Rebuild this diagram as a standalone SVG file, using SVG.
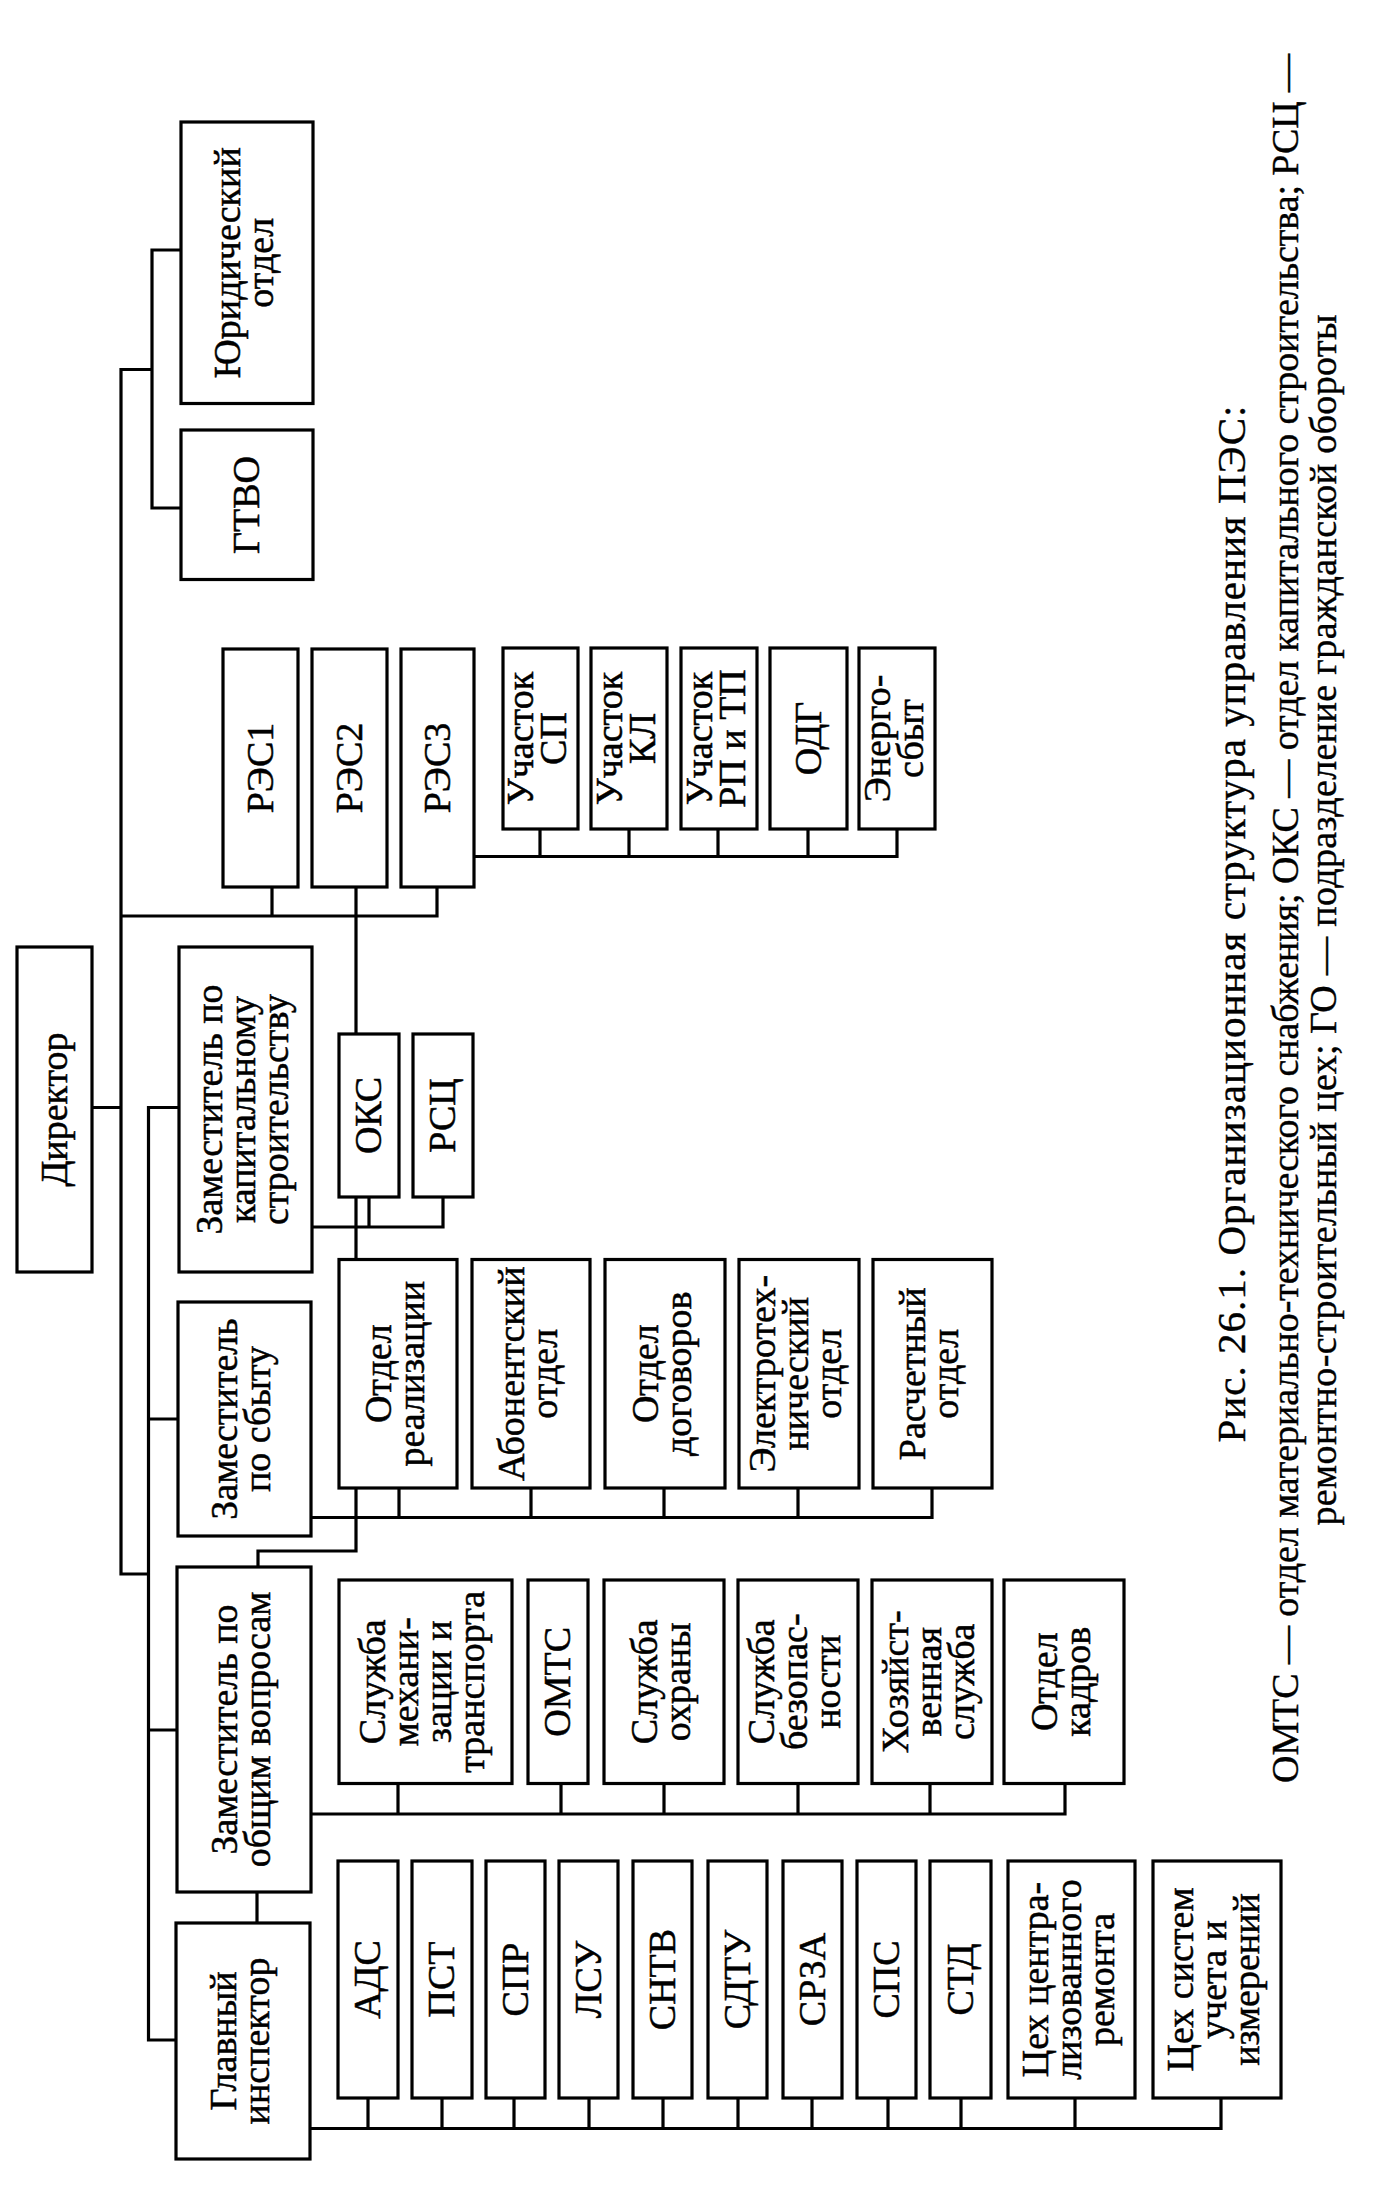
<svg xmlns="http://www.w3.org/2000/svg" width="1393" height="2193" viewBox="0 0 1393 2193">
<style>
.b{fill:#fff;stroke:#000;stroke-width:3.2}
.c{fill:none;stroke:#000;stroke-width:3.2;stroke-linecap:square}
.t{font-family:"Liberation Serif","Times New Roman",serif;font-size:38px;text-anchor:middle;fill:#000;stroke:#000;stroke-width:0.5}
.cap{font-family:"Liberation Serif","Times New Roman",serif;text-anchor:middle;fill:#000;stroke:#000;stroke-width:0.4}
</style>
<rect width="1393" height="2193" fill="#fff"/>
<g id="connectors">
<path class="c" d="M121 369.5 V1574 H148.5 M121 369.5 H152 M152 250 V508 M152 250 H181 M152 508 H181 M92 1107.5 H121 M121 916 H437 M272 887 V916 M437 887 V916 M356 887 V1034 M474 856.5 H897 M540 829 V856.5 M629 829 V856.5 M718 829 V856.5 M808 829 V856.5 M897 829 V856.5 M148.5 1107.5 H179 M148.5 1107.5 V2040 M148.5 1419 H178 M148.5 1730 H177 M148.5 2040 H176 M312 1227 H443 M369 1197 V1227 M443 1197 V1227 M356 1197 V1259.5 M356 1488 V1551 H258 V1567 M311 1517.5 H932 M399 1488 V1517.5 M531 1488 V1517.5 M664 1488 V1517.5 M798 1488 V1517.5 M932 1488 V1517.5 M257 1892 V1923 M311 1814 H1065 M398 1783.5 V1814 M561 1783.5 V1814 M664 1783.5 V1814 M798 1783.5 V1814 M930 1783.5 V1814 M1065 1783.5 V1814 M310 2128.5 H1221 M368 2098 V2128.5 M442 2098 V2128.5 M514 2098 V2128.5 M589 2098 V2128.5 M663 2098 V2128.5 M738 2098 V2128.5 M812 2098 V2128.5 M888 2098 V2128.5 M961 2098 V2128.5 M1075 2098 V2128.5 M1221 2098 V2128.5"/>
</g>
<g id="dir"><rect class="b" x="17" y="947" width="75" height="325"/><text class="t" transform="translate(54.5,1109.5) rotate(-90)"><tspan x="0" y="12">Директор</tspan></text></g>
<g id="yur"><rect class="b" x="181" y="122" width="132" height="281.5"/><text class="t" transform="translate(247,262.75) rotate(-90)"><tspan x="0" y="-7.5">Юридический</tspan><tspan x="0" y="25.5">отдел</tspan></text></g>
<g id="gtvo"><rect class="b" x="181" y="430" width="132" height="149.5"/><text class="t" transform="translate(247,505) rotate(-90)"><tspan x="0" y="12">ГТВО</tspan></text></g>
<g id="res1"><rect class="b" x="223" y="649" width="75" height="238"/><text class="t" transform="translate(260.5,768) rotate(-90)"><tspan x="0" y="12">РЭС1</tspan></text></g>
<g id="res2"><rect class="b" x="312" y="649" width="75" height="238"/><text class="t" transform="translate(349.5,768) rotate(-90)"><tspan x="0" y="12">РЭС2</tspan></text></g>
<g id="res3"><rect class="b" x="401" y="649" width="73" height="238"/><text class="t" transform="translate(437.5,768) rotate(-90)"><tspan x="0" y="12">РЭС3</tspan></text></g>
<g id="u_sp"><rect class="b" x="503" y="648" width="75" height="181"/><text class="t" transform="translate(540.5,738.5) rotate(-90)"><tspan x="0" y="-7.5">Участок</tspan><tspan x="0" y="25.5">СП</tspan></text></g>
<g id="u_kl"><rect class="b" x="591" y="648" width="76" height="181"/><text class="t" transform="translate(629,738.5) rotate(-90)"><tspan x="0" y="-7.5">Участок</tspan><tspan x="0" y="25.5">КЛ</tspan></text></g>
<g id="u_rp"><rect class="b" x="681" y="648" width="76" height="181"/><text class="t" transform="translate(719,738.5) rotate(-90)"><tspan x="0" y="-7.5">Участок</tspan><tspan x="0" y="25.5">РП и ТП</tspan></text></g>
<g id="odg"><rect class="b" x="770" y="648" width="77" height="181"/><text class="t" transform="translate(808.5,738.5) rotate(-90)"><tspan x="0" y="12">ОДГ</tspan></text></g>
<g id="energo"><rect class="b" x="859" y="648" width="76" height="181"/><text class="t" transform="translate(897,738.5) rotate(-90)"><tspan x="0" y="-7.5">Энерго-</tspan><tspan x="0" y="25.5">сбыт</tspan></text></g>
<g id="zam_kap"><rect class="b" x="179" y="947" width="133" height="325"/><text class="t" transform="translate(245.5,1109.5) rotate(-90)"><tspan x="0" y="-24">Заместитель по</tspan><tspan x="0" y="9">капитальному</tspan><tspan x="0" y="42">строительству</tspan></text></g>
<g id="oks"><rect class="b" x="339" y="1034" width="60" height="163"/><text class="t" transform="translate(369,1115.5) rotate(-90)"><tspan x="0" y="12">ОКС</tspan></text></g>
<g id="rsc"><rect class="b" x="413" y="1034" width="60" height="163"/><text class="t" transform="translate(443,1115.5) rotate(-90)"><tspan x="0" y="12">РСЦ</tspan></text></g>
<g id="zam_sbyt"><rect class="b" x="178" y="1302" width="133" height="234"/><text class="t" transform="translate(244.5,1419) rotate(-90)"><tspan x="0" y="-7.5">Заместитель</tspan><tspan x="0" y="25.5">по сбыту</tspan></text></g>
<g id="otd_real"><rect class="b" x="339" y="1259.5" width="118" height="228.5"/><text class="t" transform="translate(398,1373.75) rotate(-90)"><tspan x="0" y="-7.5">Отдел</tspan><tspan x="0" y="25.5">реализации</tspan></text></g>
<g id="abon"><rect class="b" x="472" y="1259.5" width="118" height="228.5"/><text class="t" transform="translate(531,1373.75) rotate(-90)"><tspan x="0" y="-7.5">Абонентский</tspan><tspan x="0" y="25.5">отдел</tspan></text></g>
<g id="dog"><rect class="b" x="605" y="1259.5" width="120" height="228.5"/><text class="t" transform="translate(665,1373.75) rotate(-90)"><tspan x="0" y="-7.5">Отдел</tspan><tspan x="0" y="25.5">договоров</tspan></text></g>
<g id="elt"><rect class="b" x="739" y="1259.5" width="120" height="228.5"/><text class="t" transform="translate(799,1373.75) rotate(-90)"><tspan x="0" y="-24">Электротех-</tspan><tspan x="0" y="9">нический</tspan><tspan x="0" y="42">отдел</tspan></text></g>
<g id="rasch"><rect class="b" x="873" y="1259.5" width="119" height="228.5"/><text class="t" transform="translate(932.5,1373.75) rotate(-90)"><tspan x="0" y="-7.5">Расчетный</tspan><tspan x="0" y="25.5">отдел</tspan></text></g>
<g id="zam_obsh"><rect class="b" x="177" y="1567" width="134" height="325"/><text class="t" transform="translate(244,1729.5) rotate(-90)"><tspan x="0" y="-7.5">Заместитель по</tspan><tspan x="0" y="25.5">общим вопросам</tspan></text></g>
<g id="gi"><rect class="b" x="176" y="1923" width="134" height="236"/><text class="t" transform="translate(243,2041) rotate(-90)"><tspan x="0" y="-7.5">Главный</tspan><tspan x="0" y="25.5">инспектор</tspan></text></g>
<g id="mech"><rect class="b" x="339" y="1580" width="173" height="203.5"/><text class="t" transform="translate(425.5,1681.75) rotate(-90)"><tspan x="0" y="-40.5">Служба</tspan><tspan x="0" y="-7.5">механи-</tspan><tspan x="0" y="25.5">зации и</tspan><tspan x="0" y="58.5">транспорта</tspan></text></g>
<g id="omtc"><rect class="b" x="528" y="1580" width="60" height="203.5"/><text class="t" transform="translate(558,1681.75) rotate(-90)"><tspan x="0" y="12">ОМТС</tspan></text></g>
<g id="ohr"><rect class="b" x="604" y="1580" width="120" height="203.5"/><text class="t" transform="translate(664,1681.75) rotate(-90)"><tspan x="0" y="-7.5">Служба</tspan><tspan x="0" y="25.5">охраны</tspan></text></g>
<g id="bez"><rect class="b" x="738" y="1580" width="120" height="203.5"/><text class="t" transform="translate(798,1681.75) rotate(-90)"><tspan x="0" y="-24">Служба</tspan><tspan x="0" y="9">безопас-</tspan><tspan x="0" y="42">ности</tspan></text></g>
<g id="hoz"><rect class="b" x="872" y="1580" width="120" height="203.5"/><text class="t" transform="translate(932,1681.75) rotate(-90)"><tspan x="0" y="-24">Хозяйст-</tspan><tspan x="0" y="9">венная</tspan><tspan x="0" y="42">служба</tspan></text></g>
<g id="kadr"><rect class="b" x="1004" y="1580" width="120" height="203.5"/><text class="t" transform="translate(1064,1681.75) rotate(-90)"><tspan x="0" y="-7.5">Отдел</tspan><tspan x="0" y="25.5">кадров</tspan></text></g>
<g id="ads"><rect class="b" x="338" y="1861" width="60" height="237"/><text class="t" transform="translate(368,1979.5) rotate(-90)"><tspan x="0" y="12">АДС</tspan></text></g>
<g id="pst"><rect class="b" x="412" y="1861" width="60" height="237"/><text class="t" transform="translate(442,1979.5) rotate(-90)"><tspan x="0" y="12">ПСТ</tspan></text></g>
<g id="spr"><rect class="b" x="486" y="1861" width="59" height="237"/><text class="t" transform="translate(515.5,1979.5) rotate(-90)"><tspan x="0" y="12">СПР</tspan></text></g>
<g id="lsu"><rect class="b" x="559" y="1861" width="59" height="237"/><text class="t" transform="translate(588.5,1979.5) rotate(-90)"><tspan x="0" y="12">ЛСУ</tspan></text></g>
<g id="sntv"><rect class="b" x="633" y="1861" width="59" height="237"/><text class="t" transform="translate(662.5,1979.5) rotate(-90)"><tspan x="0" y="12">СНТВ</tspan></text></g>
<g id="sdtu"><rect class="b" x="708" y="1861" width="59" height="237"/><text class="t" transform="translate(737.5,1979.5) rotate(-90)"><tspan x="0" y="12">СДТУ</tspan></text></g>
<g id="srza"><rect class="b" x="783" y="1861" width="59" height="237"/><text class="t" transform="translate(812.5,1979.5) rotate(-90)"><tspan x="0" y="12">СРЗА</tspan></text></g>
<g id="sps"><rect class="b" x="857" y="1861" width="59" height="237"/><text class="t" transform="translate(886.5,1979.5) rotate(-90)"><tspan x="0" y="12">СПС</tspan></text></g>
<g id="std"><rect class="b" x="930" y="1861" width="61" height="237"/><text class="t" transform="translate(960.5,1979.5) rotate(-90)"><tspan x="0" y="12">СТД</tspan></text></g>
<g id="cex_cr"><rect class="b" x="1008" y="1861" width="127" height="237"/><text class="t" transform="translate(1071.5,1979.5) rotate(-90)"><tspan x="0" y="-24">Цех центра-</tspan><tspan x="0" y="9">лизованного</tspan><tspan x="0" y="42">ремонта</tspan></text></g>
<g id="cex_sys"><rect class="b" x="1153" y="1861" width="128" height="237"/><text class="t" transform="translate(1217,1979.5) rotate(-90)"><tspan x="0" y="-24">Цех систем</tspan><tspan x="0" y="9">учета и</tspan><tspan x="0" y="42">измерений</tspan></text></g>
<g id="caption">
<text class="cap" font-size="41" transform="translate(1245,924) rotate(-90)" textLength="1037">Рис. 26.1. Организационная структура управления ПЭС:</text>
<text class="cap" font-size="38" transform="translate(1298,918.5) rotate(-90)" textLength="1729">ОМТС — отдел материально-технического снабжения; ОКС — отдел капитального строительства; РСЦ —</text>
<text class="cap" font-size="38" transform="translate(1336,920) rotate(-90)" textLength="1211">ремонтно-строительный цех; ГО — подразделение гражданской обороты</text>
</g>
</svg>
